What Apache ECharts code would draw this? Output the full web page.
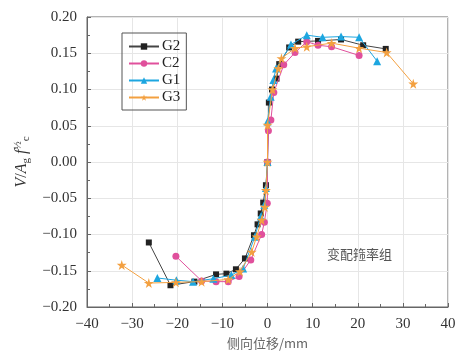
<!DOCTYPE html>
<html><head><meta charset="utf-8">
<script src="https://cdn.jsdelivr.net/npm/echarts@6/dist/echarts.min.js"></script>
<style>html,body{margin:0;padding:0;background:#fff}#c{width:466px;height:359px}</style>
</head><body><div id="c"></div>
<script>
var seriesNames = ['G2', 'C2', 'G1', 'G3'];
var xTicks = [-40, -30, -20, -10, 0, 10, 20, 30, 40];
var yTicks = [-0.20, -0.15, -0.10, -0.05, 0.00, 0.05, 0.10, 0.15, 0.20];
var g2 = [[-26.3,-0.111],[-21.5,-0.170],[-16.2,-0.165],[-11.4,-0.155],[-9.1,-0.154],[-7.0,-0.148],[-5.0,-0.133],[-3.0,-0.101],[-2.2,-0.086],[-1.5,-0.071],[-0.95,-0.056],[-0.35,-0.032],[0,0],[0.3,0.082],[1.0,0.100],[2.0,0.115],[2.6,0.135],[4.8,0.158],[6.8,0.166],[11.2,0.167],[16.3,0.169],[21.2,0.161],[26.2,0.156]];
var c2 = [[-20.3,-0.130],[-14.6,-0.164],[-11.4,-0.165],[-8.7,-0.165],[-6.3,-0.158],[-3.7,-0.135],[-1.3,-0.100],[-0.7,-0.083],[-0.05,-0.057],[0,0],[0.2,0.043],[0.75,0.058],[1.4,0.096],[3.6,0.134],[6.1,0.151],[8.7,0.166],[11.2,0.161],[14.2,0.159],[20.3,0.147]];
var g1 = [[-24.4,-0.160],[-20.2,-0.163],[-16.5,-0.165],[-12.0,-0.161],[-8.0,-0.156],[-5.4,-0.147],[-2.8,-0.103],[-1.5,-0.075],[-0.7,-0.059],[-0.35,-0.036],[0,0],[0,0.056],[0.7,0.090],[1.3,0.113],[1.9,0.129],[5.2,0.162],[8.7,0.175],[12.2,0.172],[16.3,0.173],[20.3,0.172],[24.3,0.139]];
var g3 = [[-32.3,-0.142],[-26.3,-0.167],[-20.3,-0.166],[-14.6,-0.165],[-8.7,-0.162],[-6.1,-0.151],[-3.5,-0.124],[-2.4,-0.103],[-1.3,-0.080],[-0.6,-0.062],[-0.35,-0.039],[0,0],[0,0.051],[1.1,0.100],[2.4,0.129],[3.1,0.143],[6.1,0.157],[8.7,0.159],[14.2,0.164],[20.3,0.157],[26.4,0.151],[32.3,0.108]];
var seriesData = [g2, c2, g1, g3];
var colors = ['#222222', '#e0509c', '#1da6e0', '#f3a040'];
var lineColors = ['#444444', '#e0509c', '#1da6e0', '#f3a040'];
var symbols = ['rect', 'circle', 'triangle', 'path://M50,0 L61,35 L98,35 L68,57 L79,91 L50,70 L21,91 L32,57 L2,35 L39,35 Z'];
var sizes = [6, 7, 8, 10];

var serif = 'Liberation Serif';
var chart = echarts.init(document.getElementById('c'));
function minus(s){ return String(s).replace('-', '\u2212'); }
chart.setOption({
  animation: false,
  color: colors,
  grid: { left: 87, right: 18, top: 17, bottom: 52, show: true, borderColor: '#666', borderWidth: 1, backgroundColor: 'transparent' },
  legend: {
    orient: 'vertical', left: 122, top: 33,
    data: seriesNames,
    borderColor: '#555', borderWidth: 1, borderRadius: 0,
    padding: [6, 6, 5, 6],
    itemWidth: 30, itemHeight: 8, itemGap: 2,
    textStyle: { fontFamily: serif, fontSize: 15, color: '#222', padding: [0,0,0,-2] }
  },
  xAxis: {
    type: 'value', min: xTicks[0], max: xTicks[xTicks.length-1], interval: 10,
    name: '侧向位移/mm', nameLocation: 'middle', nameGap: 28,
    nameTextStyle: { fontFamily: 'Noto Sans CJK SC', fontSize: 13, color: '#666' },
    axisLine: { onZero: false, lineStyle: { color: '#666' } },
    axisTick: { inside: true, length: 4, lineStyle: { color: '#666' } },
    minorTick: { show: true, splitNumber: 2, length: 3, lineStyle: { color: '#666' } },
    splitLine: { show: true, lineStyle: { color: '#e6e6e6' } },
    axisLabel: { fontFamily: serif, fontSize: 15, color: '#333', margin: 10, formatter: function(v){ return minus(v); } }
  },
  yAxis: {
    type: 'value', min: yTicks[0], max: yTicks[yTicks.length-1], interval: 0.05,
    name: '{i|V}{n|/}{i|A}{s|g}{i| f}{f|½}{s|c}', nameLocation: 'middle', nameGap: 44, nameRotate: 90,
    nameTextStyle: {
      fontFamily: serif, fontSize: 16, color: '#333',
      rich: {
        i: { fontFamily: serif, fontStyle: 'italic', fontSize: 16, color: '#333' },
        n: { fontFamily: serif, fontSize: 16, color: '#333' },
        s: { fontFamily: serif, fontSize: 11, color: '#333', verticalAlign: 'bottom', padding: [6,0,0,0] },
        f: { fontFamily: serif, fontSize: 11, color: '#333', verticalAlign: 'top', padding: [0,0,8,0] }
      }
    },
    axisLine: { onZero: false, lineStyle: { color: '#666' } },
    axisTick: { inside: true, length: 4, lineStyle: { color: '#666' } },
    minorTick: { show: true, splitNumber: 2, length: 3, lineStyle: { color: '#666' } },
    splitLine: { show: true, lineStyle: { color: '#e6e6e6' } },
    axisLabel: { fontFamily: serif, fontSize: 15, color: '#333', margin: 10, formatter: function(v){ return minus(v.toFixed(2)); } }
  },
  graphic: [{
    type: 'text', left: 327, top: 248,
    style: { text: '变配箍率组', font: '13px "Noto Sans CJK SC"', fill: '#555' }
  }],
  series: seriesNames.map(function(n, i){
    return {
      name: n, type: 'line', data: seriesData[i],
      symbol: symbols[i], symbolSize: sizes[i],
      itemStyle: { color: colors[i] },
      lineStyle: { color: lineColors[i], width: 1 },
      z: 2 + i
    };
  })
});
</script></body></html>
